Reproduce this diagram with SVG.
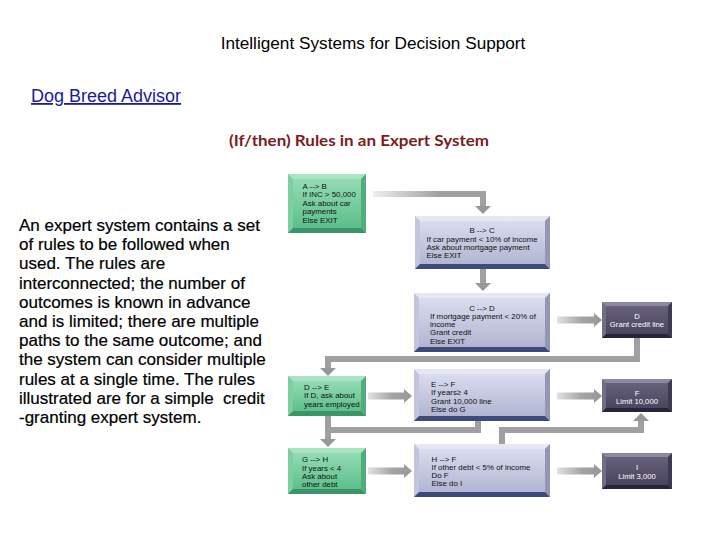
<svg xmlns="http://www.w3.org/2000/svg" width="720" height="540" viewBox="0 0 720 540">
<style>
.ttl{font-family:"Liberation Sans",Arial,sans-serif;font-size:17.2px;fill:#000}
.lnk{font-family:"Liberation Sans",Arial,sans-serif;font-size:18px;fill:#1a1aa0;text-decoration:underline}
.sub{font-family:Lato,"Liberation Sans",sans-serif;font-size:15px;font-weight:bold;fill:#7b1c1c}
.body{font-family:"Liberation Sans",Arial,sans-serif;font-size:17px;fill:#000;stroke:#000;stroke-width:0.2px}
.nt{font-family:"Liberation Sans",Arial,sans-serif;font-size:7.9px;fill:#111}
.nw{font-family:"Liberation Sans",Arial,sans-serif;font-size:7.7px;fill:#fff}
.c{text-anchor:middle}
.gl{fill:#7ccfa2}.gt{fill:#a9e5c4}.gr{fill:#4fae7c}.gb{fill:#3a9667}.gf{fill:url(#fg)}
.bl{fill:#c3c5dc}.bt{fill:#e6e7f3}.br{fill:#9397b7}.bb{fill:#3d4a7c}.bf{fill:url(#fb)}
.dl{fill:#726c87}.dt{fill:#8d88a2}.dr{fill:#3e3a52}.db{fill:#27253a}.df{fill:url(#fd)}
.con{fill:none;stroke:#a0a0a0;stroke-width:6;stroke-linejoin:miter}
.ha{fill:url(#fh)}
</style>
<defs>
<linearGradient id="fg" x1="0" y1="0" x2="0" y2="1"><stop offset="0" stop-color="#94dbb4"/><stop offset="1" stop-color="#5cbf8a"/></linearGradient>
<linearGradient id="fb" x1="0" y1="0" x2="0" y2="1"><stop offset="0" stop-color="#dadcef"/><stop offset="1" stop-color="#b2b5d1"/></linearGradient>
<linearGradient id="fd" x1="0" y1="0" x2="0" y2="1"><stop offset="0" stop-color="#67617b"/><stop offset="1" stop-color="#4a455f"/></linearGradient>
<linearGradient id="fh" x1="0" y1="0" x2="1" y2="0"><stop offset="0" stop-color="#e2e2e2"/><stop offset="0.55" stop-color="#a4a4a4"/><stop offset="1" stop-color="#979797"/></linearGradient>
<linearGradient id="gab" gradientUnits="userSpaceOnUse" x1="373" y1="0" x2="440" y2="0"><stop offset="0" stop-color="#eeeeee"/><stop offset="1" stop-color="#a0a0a0"/></linearGradient>
<marker id="ah" viewBox="0 -8 8 16" refX="0" refY="0" markerWidth="8" markerHeight="16" markerUnits="userSpaceOnUse" orient="auto"><path d="M0,-8 L8,0 L0,8 Z" fill="#979797"/></marker>
</defs>
<rect width="720" height="540" fill="#fff"/>
<text class="ttl c" x="373" y="49">Intelligent Systems for Decision Support</text>
<text class="lnk" x="31" y="102">Dog Breed Advisor</text>
<text class="sub c" x="359" y="146" textLength="260" lengthAdjust="spacingAndGlyphs">(If/then) Rules in an Expert System</text>
<g id="description">
<text class="body" x="19" y="231">An expert system contains a set</text>
<text class="body" x="19" y="250.2">of rules to be followed when</text>
<text class="body" x="19" y="269.4">used. The rules are</text>
<text class="body" x="19" y="288.6">interconnected; the number of</text>
<text class="body" x="19" y="307.8">outcomes is known in advance</text>
<text class="body" x="19" y="327">and is limited; there are multiple</text>
<text class="body" x="19" y="346.2">paths to the same outcome; and</text>
<text class="body" x="19" y="365.4">the system can consider multiple</text>
<text class="body" x="19" y="384.6">rules at a single time. The rules</text>
<text class="body" x="19" y="403.8" xml:space="preserve" style="white-space:pre">illustrated are for a simple  credit</text>
<text class="body" x="19" y="423">-granting expert system.</text>
</g>
<g id="connectors">
<path d="M373,194 H483 V206" fill="none" stroke="url(#gab)" stroke-width="6" marker-end="url(#ah)"/>
<path class="con" d="M483,269 V283" marker-end="url(#ah)"/>
<path class="con" d="M637,338 V359 H328 V368" marker-end="url(#ah)"/>
<path class="con" d="M328,416 V439" marker-end="url(#ah)"/>
<path class="con" d="M478,421 V430 H328"/>
<path class="con" d="M502,444 V430 H641 V421" marker-end="url(#ah)"/>
<polygon class="ha" points="557,316.5 594,316.5 594,313 602,320 594,327 594,323.5 557,323.5"/>
<polygon class="ha" points="368,392.5 404,392.5 404,389 412,396 404,403 404,399.5 368,399.5"/>
<polygon class="ha" points="557,392.5 594,392.5 594,389 602,396 594,403 594,399.5 557,399.5"/>
<polygon class="ha" points="368,467.5 404,467.5 404,464 412,471 404,478 404,474.5 368,474.5"/>
<polygon class="ha" points="557,467.5 594,467.5 594,464 602,471 594,478 594,474.5 557,474.5"/>
</g>
<g id="nodeA">
<rect class="gl" x="288" y="174" width="78" height="59"/>
<polygon class="gt" points="288,174 366,174 361,179 293,179"/>
<polygon class="gr" points="366,174 366,233 361,228 361,179"/>
<polygon class="gb" points="288,233 366,233 361,228 293,228"/>
<rect class="gf" x="293" y="179" width="68" height="49"/>
<text class="nt" x="302.5" y="188.5">A --&gt; B</text>
<text class="nt" x="302.5" y="197">If INC &gt; 50,000</text>
<text class="nt" x="302.5" y="205.5">Ask about car</text>
<text class="nt" x="302.5" y="214.3">payments</text>
<text class="nt" x="302.5" y="223">Else EXIT</text>
</g>
<g id="nodeB">
<rect class="bl" x="415" y="216" width="135" height="53"/>
<polygon class="bt" points="415,216 550,216 545,221 420,221"/>
<polygon class="br" points="550,216 550,269 545,264 545,221"/>
<polygon class="bb" points="415,269 550,269 545,264 420,264"/>
<rect class="bf" x="420" y="221" width="125" height="43"/>
<text class="nt c" x="482" y="233">B --&gt; C</text>
<text class="nt" x="426.5" y="241.5">If car payment &lt; 10% of income</text>
<text class="nt" x="426.5" y="249.5">Ask about mortgage payment</text>
<text class="nt" x="426.5" y="257.5">Else EXIT</text>
</g>
<g id="nodeC">
<rect class="bl" x="414" y="293" width="136" height="59"/>
<polygon class="bt" points="414,293 550,293 545,298 419,298"/>
<polygon class="br" points="550,293 550,352 545,347 545,298"/>
<polygon class="bb" points="414,352 550,352 545,347 419,347"/>
<rect class="bf" x="419" y="298" width="126" height="49"/>
<text class="nt c" x="482" y="311">C --&gt; D</text>
<text class="nt" x="430" y="319.3">If mortgage payment &lt; 20% of</text>
<text class="nt" x="430" y="327.3">income</text>
<text class="nt" x="430" y="335.3">Grant credit</text>
<text class="nt" x="430" y="343.5">Else EXIT</text>
</g>
<g id="nodeD">
<rect class="dl" x="602" y="302" width="70" height="36"/>
<polygon class="dt" points="602,302 672,302 668,306 606,306"/>
<polygon class="dr" points="672,302 672,338 668,334 668,306"/>
<polygon class="db" points="602,338 672,338 668,334 606,334"/>
<rect class="df" x="606" y="306" width="62" height="28"/>
<text class="nw c" x="637" y="318.8">D</text>
<text class="nw c" x="637" y="327">Grant credit line</text>
</g>
<g id="nodeDE">
<rect class="gl" x="288" y="376" width="78" height="40"/>
<polygon class="gt" points="288,376 366,376 361,381 293,381"/>
<polygon class="gr" points="366,376 366,416 361,411 361,381"/>
<polygon class="gb" points="288,416 366,416 361,411 293,411"/>
<rect class="gf" x="293" y="381" width="68" height="30"/>
<text class="nt" x="304" y="389.5">D --&gt; E</text>
<text class="nt" x="304" y="398">If D, ask about</text>
<text class="nt" x="304" y="406.8">years employed</text>
</g>
<g id="nodeE">
<rect class="bl" x="414" y="369" width="136" height="52"/>
<polygon class="bt" points="414,369 550,369 545,374 419,374"/>
<polygon class="br" points="550,369 550,421 545,416 545,374"/>
<polygon class="bb" points="414,421 550,421 545,416 419,416"/>
<rect class="bf" x="419" y="374" width="126" height="42"/>
<text class="nt" x="431" y="387">E --&gt; F</text>
<text class="nt" x="431" y="395.2">If years≥ 4</text>
<text class="nt" x="431" y="403.5">Grant 10,000 line</text>
<text class="nt" x="431" y="411.8">Else do G</text>
</g>
<g id="nodeF">
<rect class="dl" x="602" y="379" width="70" height="33"/>
<polygon class="dt" points="602,379 672,379 668,383 606,383"/>
<polygon class="dr" points="672,379 672,412 668,408 668,383"/>
<polygon class="db" points="602,412 672,412 668,408 606,408"/>
<rect class="df" x="606" y="383" width="62" height="25"/>
<text class="nw c" x="637" y="395.5">F</text>
<text class="nw c" x="637" y="403.5">Limit 10,000</text>
</g>
<g id="nodeG">
<rect class="gl" x="288" y="448" width="78" height="46"/>
<polygon class="gt" points="288,448 366,448 361,453 293,453"/>
<polygon class="gr" points="366,448 366,494 361,489 361,453"/>
<polygon class="gb" points="288,494 366,494 361,489 293,489"/>
<rect class="gf" x="293" y="453" width="68" height="36"/>
<text class="nt" x="302" y="462">G --&gt; H</text>
<text class="nt" x="302" y="470.5">If years &lt; 4</text>
<text class="nt" x="302" y="478.5">Ask about</text>
<text class="nt" x="302" y="486.5">other debt</text>
</g>
<g id="nodeH">
<rect class="bl" x="414" y="444" width="136" height="53"/>
<polygon class="bt" points="414,444 550,444 545,449 419,449"/>
<polygon class="br" points="550,444 550,497 545,492 545,449"/>
<polygon class="bb" points="414,497 550,497 545,492 419,492"/>
<rect class="bf" x="419" y="449" width="126" height="43"/>
<text class="nt" x="431.5" y="461.8">H --&gt; F</text>
<text class="nt" x="431.5" y="470">If other debt &lt; 5% of income</text>
<text class="nt" x="431.5" y="478">Do F</text>
<text class="nt" x="431.5" y="486">Else do I</text>
</g>
<g id="nodeI">
<rect class="dl" x="602" y="453" width="70" height="36"/>
<polygon class="dt" points="602,453 672,453 668,457 606,457"/>
<polygon class="dr" points="672,453 672,489 668,485 668,457"/>
<polygon class="db" points="602,489 672,489 668,485 606,485"/>
<rect class="df" x="606" y="457" width="62" height="28"/>
<text class="nw c" x="637" y="470">I</text>
<text class="nw c" x="637" y="478.5">Limit 3,000</text>
</g>
</svg>
